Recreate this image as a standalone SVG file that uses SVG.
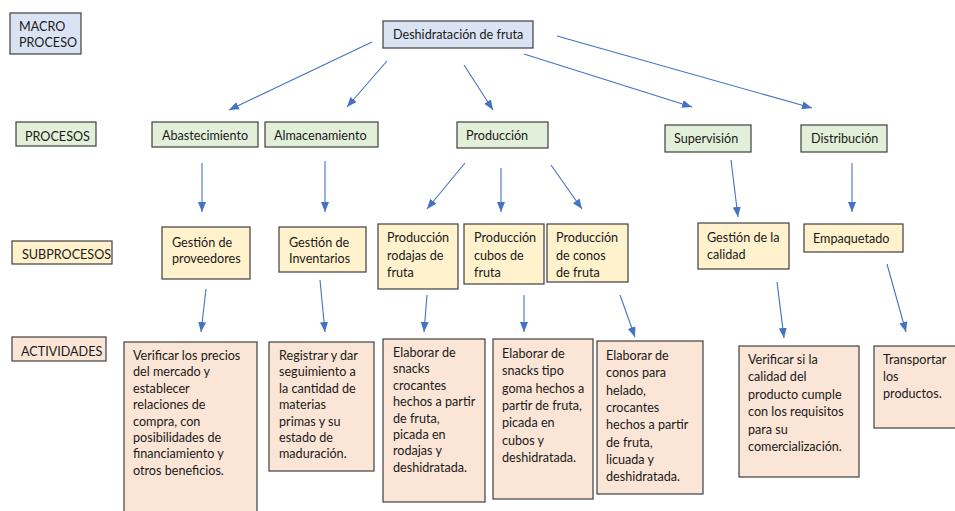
<svg xmlns="http://www.w3.org/2000/svg" width="955" height="511" viewBox="0 0 955 511">
<style>
text{font-family:Lato,"Liberation Sans",sans-serif;font-size:12.6px;fill:#1a1a1a}
.m,.p,.s,.a{stroke:#3f3f3f;stroke-width:1.2}
.m{fill:#dae3f3}
.p{fill:#e2f0d9}
.s{fill:#fff2cc}
.a{fill:#fbe5d6}
.c line{stroke:#4472c4;stroke-width:1.1;marker-end:url(#ah)}
</style>
<defs>
<marker id="ah" markerUnits="userSpaceOnUse" markerWidth="10" markerHeight="10" viewBox="0 0 10 10" refX="10" refY="5" orient="auto">
<path d="M0,1 L10,5 L0,9 Z" fill="#4472c4"/>
</marker>
</defs>
<rect width="955" height="511" fill="#fff"/>
<g id="lbl-macro"><rect class="m" x="10" y="13" width="71" height="41"/><text x="19" y="30.5">MACRO<tspan x="19" dy="16.5">PROCESO</tspan></text></g>
<g id="lbl-procesos"><rect class="p" x="16" y="122" width="80" height="24"/><text x="25" y="140.5">PROCESOS</text></g>
<g id="lbl-subprocesos"><rect class="s" x="12" y="241" width="100" height="23"/><text x="22" y="258.5">SUBPROCESOS</text></g>
<g id="lbl-actividades"><rect class="a" x="12" y="337" width="94" height="24"/><text x="21" y="355.5">ACTIVIDADES</text></g>

<g id="n-deshidratacion"><rect class="m" x="383" y="21" width="150" height="27"/><text x="393" y="38.5">Deshidratación de fruta</text></g>

<g id="n-abastecimiento"><rect class="p" x="152" y="122" width="106" height="25"/><text x="162" y="140">Abastecimiento</text></g>
<g id="n-almacenamiento"><rect class="p" x="265" y="122" width="113" height="25"/><text x="274" y="140">Almacenamiento</text></g>
<g id="n-produccion"><rect class="p" x="457" y="122" width="91" height="26"/><text x="466" y="140">Producción</text></g>
<g id="n-supervision"><rect class="p" x="665" y="125" width="86" height="27"/><text x="674" y="143">Supervisión</text></g>
<g id="n-distribucion"><rect class="p" x="801" y="125" width="86" height="27"/><text x="811" y="143">Distribución</text></g>

<g id="n-proveedores"><rect class="s" x="162" y="227" width="88" height="52"/><text x="172" y="247">Gestión de<tspan x="172" dy="16">proveedores</tspan></text></g>
<g id="n-inventarios"><rect class="s" x="279" y="227" width="87" height="45"/><text x="289" y="247">Gestión de<tspan x="289" dy="16">Inventarios</tspan></text></g>
<g id="n-rodajas"><rect class="s" x="378" y="224" width="80" height="65"/><text x="387" y="242">Producción<tspan x="387" dy="17.5">rodajas de</tspan><tspan x="387" dy="17.5">fruta</tspan></text></g>
<g id="n-cubos"><rect class="s" x="464" y="224" width="80" height="60"/><text x="474" y="242">Producción<tspan x="474" dy="17.5">cubos de</tspan><tspan x="474" dy="17.5">fruta</tspan></text></g>
<g id="n-conos"><rect class="s" x="547" y="224" width="81" height="58"/><text x="556" y="242">Producción<tspan x="556" dy="17.5">de conos</tspan><tspan x="556" dy="17.5">de fruta</tspan></text></g>
<g id="n-calidad"><rect class="s" x="698" y="223" width="91" height="46"/><text x="707" y="242">Gestión de la<tspan x="707" dy="17">calidad</tspan></text></g>
<g id="n-empaquetado"><rect class="s" x="804" y="224" width="99" height="28"/><text x="813" y="243">Empaquetado</text></g>

<g id="a-precios"><rect class="a" x="124" y="342" width="133" height="175"/><text x="133" y="360">Verificar los precios<tspan x="133" dy="16.4">del mercado y</tspan><tspan x="133" dy="16.4">establecer</tspan><tspan x="133" dy="16.4">relaciones de</tspan><tspan x="133" dy="16.4">compra, con</tspan><tspan x="133" dy="16.4">posibilidades de</tspan><tspan x="133" dy="16.4">financiamiento y</tspan><tspan x="133" dy="16.4">otros beneficios.</tspan></text></g>
<g id="a-registrar"><rect class="a" x="269" y="342" width="105" height="129"/><text x="279" y="360">Registrar y dar<tspan x="279" dy="16.4">seguimiento a</tspan><tspan x="279" dy="16.4">la cantidad de</tspan><tspan x="279" dy="16.4">materias</tspan><tspan x="279" dy="16.4">primas y su</tspan><tspan x="279" dy="16.4">estado de</tspan><tspan x="279" dy="16.4">maduración.</tspan></text></g>
<g id="a-rodajas"><rect class="a" x="383" y="339" width="102" height="163"/><text x="393" y="357">Elaborar de<tspan x="393" dy="16.4">snacks</tspan><tspan x="393" dy="16.4">crocantes</tspan><tspan x="393" dy="16.4">hechos a partir</tspan><tspan x="393" dy="16.4">de fruta,</tspan><tspan x="393" dy="16.4">picada en</tspan><tspan x="393" dy="16.4">rodajas y</tspan><tspan x="393" dy="16.4">deshidratada.</tspan></text></g>
<g id="a-cubos"><rect class="a" x="493" y="339" width="100" height="160"/><text x="502" y="358">Elaborar de<tspan x="502" dy="17.3">snacks tipo</tspan><tspan x="502" dy="17.3">goma hechos a</tspan><tspan x="502" dy="17.3">partir de fruta,</tspan><tspan x="502" dy="17.3">picada en</tspan><tspan x="502" dy="17.3">cubos y</tspan><tspan x="502" dy="17.3">deshidratada.</tspan></text></g>
<g id="a-conos"><rect class="a" x="597" y="341" width="106" height="153"/><text x="606" y="360">Elaborar de<tspan x="606" dy="17.3">conos para</tspan><tspan x="606" dy="17.3">helado,</tspan><tspan x="606" dy="17.3">crocantes</tspan><tspan x="606" dy="17.3">hechos a partir</tspan><tspan x="606" dy="17.3">de fruta,</tspan><tspan x="606" dy="17.3">licuada y</tspan><tspan x="606" dy="17.3">deshidratada.</tspan></text></g>
<g id="a-calidad"><rect class="a" x="739" y="346" width="120" height="131"/><text x="748" y="364">Verificar si la<tspan x="748" dy="17.4">calidad del</tspan><tspan x="748" dy="17.4">producto cumple</tspan><tspan x="748" dy="17.4">con los requisitos</tspan><tspan x="748" dy="17.4">para su</tspan><tspan x="748" dy="17.4">comercialización.</tspan></text></g>
<g id="a-transportar"><rect class="a" x="874" y="346" width="85" height="82"/><text x="883" y="364">Transportar<tspan x="883" dy="17">los</tspan><tspan x="883" dy="17">productos.</tspan></text></g>

<g id="connectors" class="c">
<line x1="372" y1="42" x2="229" y2="110"/>
<line x1="387" y1="61" x2="347" y2="107"/>
<line x1="464" y1="65" x2="493" y2="110"/>
<line x1="524" y1="54" x2="692" y2="107"/>
<line x1="557" y1="36" x2="812" y2="108"/>
<line x1="202" y1="163" x2="202" y2="212"/>
<line x1="325" y1="161" x2="325" y2="212"/>
<line x1="465" y1="163" x2="427" y2="209"/>
<line x1="501" y1="168" x2="501" y2="212"/>
<line x1="551" y1="165" x2="582" y2="209"/>
<line x1="731" y1="160" x2="738" y2="217"/>
<line x1="852" y1="163" x2="852" y2="212"/>
<line x1="206" y1="289" x2="201" y2="332"/>
<line x1="320" y1="280" x2="325" y2="332"/>
<line x1="427" y1="295" x2="424" y2="332"/>
<line x1="524" y1="295" x2="524" y2="332"/>
<line x1="620" y1="295" x2="635" y2="337"/>
<line x1="777" y1="282" x2="784" y2="338"/>
<line x1="887" y1="264" x2="906" y2="332"/>
</g>
</svg>
